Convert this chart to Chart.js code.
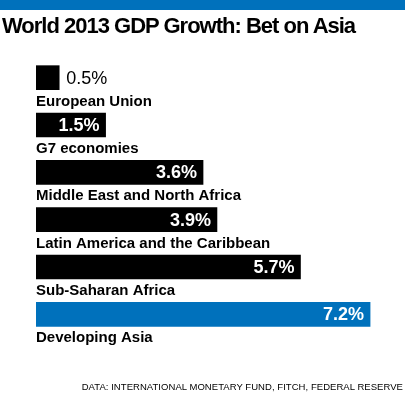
<!DOCTYPE html>
<html>
<head>
<meta charset="utf-8">
<script src="https://cdn.jsdelivr.net/npm/chart.js@4.4.1/dist/chart.umd.min.js"></script>
<style>
  html, body { margin: 0; padding: 0; background: #fff; }
  #wrap { position: relative; width: 405px; height: 400px; overflow: hidden; font-family: "Liberation Sans", Arial, sans-serif; }
  #topbar { position: absolute; left: 0; top: 0; width: 405px; height: 10px; background: #0071bc; }
  #title { position: absolute; left: 2px; top: 13px; font-size: 22px; font-weight: bold; letter-spacing: -1px; color: #000; white-space: nowrap; }
  #source { position: absolute; right: 2px; top: 381px; font-size: 9.5px; letter-spacing: 0.05px; color: #000; white-space: nowrap; }
  #chart { position: absolute; left: 0; top: 0; }
</style>
</head>
<body>
<div id="wrap">
  <div id="topbar"></div>
  <canvas id="chart" width="405" height="400"></canvas>
  <div id="title">World 2013 GDP Growth: Bet on Asia</div>
  <div id="source">DATA: INTERNATIONAL MONETARY FUND, FITCH, FEDERAL RESERVE</div>
</div>
<script>
const regions = ["European Union", "G7 economies", "Middle East and North Africa", "Latin America and the Caribbean", "Sub-Saharan Africa", "Developing Asia"];
const growth = [0.5, 1.5, 3.6, 3.9, 5.7, 7.2];
const barColors = ["#000000", "#000000", "#000000", "#000000", "#000000", "#0071bc"];

const FONT = '"Liberation Sans", Arial, sans-serif';

// region name under each bar, value inside (or right of) it
const barLabels = {
  id: "barLabels",
  afterDatasetsDraw(chart) {
    const ctx = chart.ctx;
    const meta = chart.getDatasetMeta(0);
    ctx.save();
    meta.data.forEach((bar, i) => {
      const half = bar.height / 2;
      ctx.textAlign = "left";
      ctx.textBaseline = "alphabetic";
      ctx.fillStyle = "#000";
      ctx.font = `bold 15px ${FONT}`;
      ctx.fillText(regions[i], bar.base, bar.y + half + 16);

      const text = growth[i].toFixed(1) + "%";
      ctx.textBaseline = "middle";
      const inside = bar.x - bar.base > 50;
      if (inside) {
        ctx.font = `bold 18px ${FONT}`;
        ctx.fillStyle = "#fff";
        ctx.textAlign = "right";
        ctx.fillText(text, bar.x - 6, bar.y + 1);
      } else {
        ctx.font = `18px ${FONT}`;
        ctx.fillStyle = "#000";
        ctx.textAlign = "left";
        ctx.fillText(text, bar.x + 7, bar.y + 1);
      }
    });
    ctx.restore();
  }
};

new Chart(document.getElementById("chart"), {
  type: "bar",
  data: {
    labels: regions,
    datasets: [{
      data: growth,
      backgroundColor: barColors,
      barThickness: 24,
      borderWidth: 0
    }]
  },
  options: {
    indexAxis: "y",
    responsive: false,
    animation: false,
    devicePixelRatio: 1,
    layout: { padding: { top: 54, bottom: 62, left: 36, right: 21 } },
    plugins: { legend: { display: false }, tooltip: { enabled: false } },
    scales: {
      x: { display: false, min: 0, max: 7.5 },
      y: { display: false }
    }
  },
  plugins: [barLabels]
});
</script>
</body>
</html>
